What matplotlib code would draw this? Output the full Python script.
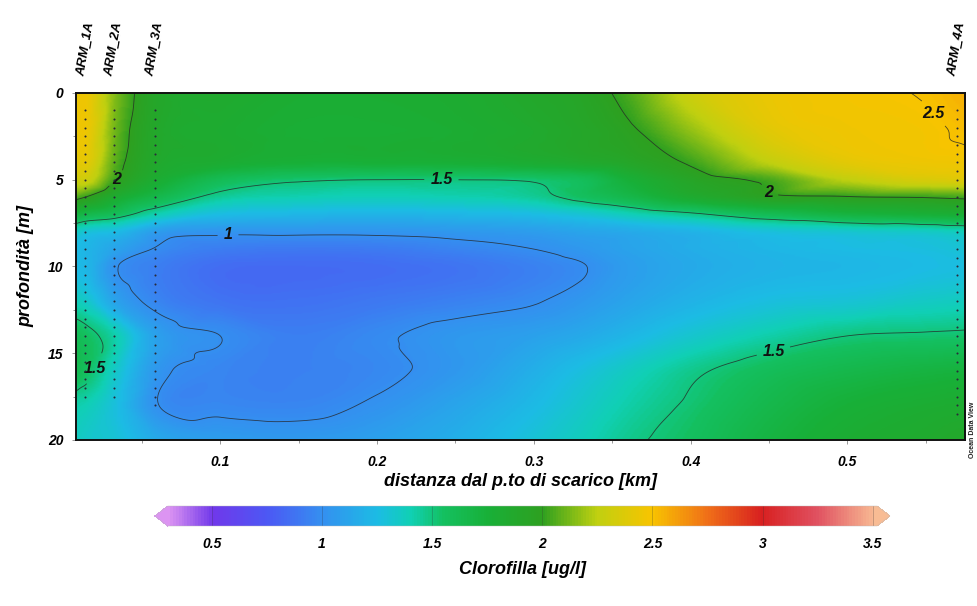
import numpy as np
import matplotlib
matplotlib.use("Agg")
import matplotlib.pyplot as plt
import matplotlib.tri as mtri
from matplotlib.colors import LinearSegmentedColormap, Normalize

plt.rcParams['font.family'] = ['Liberation Sans', 'DejaVu Sans']

# Chlorophyll section: distance from outfall (km) x depth (m)
dist = [0.008, 0.014, 0.032, 0.059, 0.10, 0.15, 0.20, 0.25, 0.30, 0.33,
        0.36, 0.40, 0.45, 0.50, 0.55, 0.575]
depth = [0, 2, 4, 5, 6, 7, 8, 9, 10, 12, 14, 16, 18, 20]

chl = [
    [2.45, 2.45, 2.15, 1.90, 1.85, 1.80, 1.80, 1.82, 1.88, 1.93, 2.05, 2.30, 2.44, 2.48, 2.51, 2.56],
    [2.45, 2.45, 2.12, 1.88, 1.82, 1.78, 1.78, 1.80, 1.85, 1.90, 1.98, 2.18, 2.40, 2.46, 2.48, 2.52],
    [2.40, 2.40, 2.08, 1.86, 1.80, 1.75, 1.75, 1.76, 1.80, 1.84, 1.90, 2.02, 2.25, 2.40, 2.45, 2.46],
    [2.30, 2.30, 2.02, 1.80, 1.60, 1.52, 1.50, 1.50, 1.52, 1.58, 1.75, 1.92, 2.04, 2.25, 2.35, 2.38],
    [2.05, 2.00, 1.82, 1.65, 1.45, 1.40, 1.38, 1.40, 1.45, 1.55, 1.65, 1.82, 1.96, 1.99, 2.01, 2.03],
    [1.70, 1.65, 1.58, 1.40, 1.25, 1.22, 1.20, 1.22, 1.25, 1.30, 1.38, 1.47, 1.60, 1.70, 1.75, 1.78],
    [1.35, 1.30, 1.25, 1.08, 1.03, 1.03, 1.03, 1.05, 1.08, 1.12, 1.15, 1.20, 1.28, 1.32, 1.35, 1.38],
    [1.25, 1.22, 1.12, 0.99, 0.92, 0.90, 0.91, 0.95, 1.00, 1.05, 1.11, 1.17, 1.22, 1.25, 1.27, 1.30],
    [1.24, 1.22, 1.02, 0.93, 0.85, 0.84, 0.85, 0.88, 0.94, 0.99, 1.08, 1.15, 1.20, 1.22, 1.25, 1.27],
    [1.38, 1.34, 1.12, 0.96, 0.88, 0.87, 0.90, 0.94, 0.99, 1.05, 1.12, 1.20, 1.27, 1.30, 1.35, 1.37],
    [1.60, 1.56, 1.42, 1.10, 1.00, 0.93, 0.98, 1.05, 1.10, 1.15, 1.22, 1.32, 1.42, 1.50, 1.52, 1.53],
    [1.62, 1.56, 1.35, 1.05, 0.96, 0.94, 0.97, 1.05, 1.18, 1.27, 1.36, 1.47, 1.58, 1.65, 1.70, 1.72],
    [1.42, 1.40, 1.28, 1.01, 0.97, 0.96, 1.02, 1.12, 1.24, 1.33, 1.42, 1.52, 1.65, 1.75, 1.80, 1.82],
    [1.36, 1.34, 1.30, 1.15, 1.08, 1.06, 1.10, 1.18, 1.30, 1.38, 1.47, 1.56, 1.70, 1.80, 1.85, 1.88],
]

stations = ['ARM_1A', 'ARM_2A', 'ARM_3A', 'ARM_4A']
station_dist = [0.014, 0.032, 0.0586, 0.570]
station_top = [1.0, 1.0, 1.0, 1.0]
station_bottom = [17.5, 17.5, 18.0, 18.5]

contour_levels = [1.0, 1.5, 2.0, 2.5]
cbar_ticks = [0.5, 1, 1.5, 2, 2.5, 3, 3.5]

# ODV-like rainbow palette
cmap_stops = [
    (0.30, '#dc94f2'), (0.50, '#7038ea'), (0.75, '#4c58f4'), (1.00, '#3490f0'),
    (1.25, '#1cbce4'), (1.40, '#10d0b4'), (1.55, '#14c060'), (1.75, '#18b038'),
    (2.00, '#2ea020'), (2.25, '#c0d010'), (2.50, '#f8c400'), (2.75, '#f07018'),
    (3.00, '#d82020'), (3.25, '#e05060'), (3.52, '#f8bc94'),
]
vmin, vmax = 0.30, 3.52
cmap = LinearSegmentedColormap.from_list(
    'odv', [((v - vmin) / (vmax - vmin), c) for v, c in cmap_stops])
cmap.set_under('#dc94f2')
cmap.set_over('#f8bc94')
norm = Normalize(vmin=vmin, vmax=vmax)

# Smooth gridding of the section values
X, Y = np.meshgrid(dist, depth)
Z = np.array(chl)
tri = mtri.Triangulation(X.ravel(), Y.ravel())
interp = mtri.CubicTriInterpolator(tri, Z.ravel(), kind='geom')
xf = np.linspace(dist[0] + 1e-6, dist[-1] - 1e-6, 500)
yf = np.linspace(depth[0] + 1e-6, depth[-1] - 1e-6, 300)
Xf, Yf = np.meshgrid(xf, yf)
Zf = interp(Xf, Yf)

fig = plt.figure(figsize=(9.77, 6.06), dpi=100)
ax = fig.add_axes([0.0778, 0.274, 0.91, 0.5726])

ax.imshow(Zf, extent=[dist[0], dist[-1], depth[-1], depth[0]], origin='upper',
          cmap=cmap, norm=norm, aspect='auto', interpolation='bilinear')
cs = ax.contour(Xf, Yf, Zf, levels=contour_levels, colors='#262626',
                linewidths=0.6, alpha=0.8)
labels = ax.clabel(cs, fmt=lambda v: f'{v:g}', fontsize=11.5, inline=True,
                   inline_spacing=6,
                   manual=[(0.038, 5.3), (0.241, 5.2), (0.105, 8.4),
                           (0.45, 5.6), (0.553, 1.3), (0.452, 14.6),
                           (0.014, 15.7)])
for t in labels:
    t.set_fontweight('bold')
    t.set_fontstyle('italic')
    t.set_color('#111111')
    t.set_rotation(0)

# Sample points at each station
for sd, top, bot in zip(station_dist, station_top, station_bottom):
    zs = np.arange(top, bot + 0.01, 0.5)
    ax.scatter(np.full_like(zs, sd), zs, s=2.2, color='#2a2a3a', zorder=4,
               linewidths=0)

ax.set_xlim(dist[0], dist[-1])
ax.set_ylim(depth[-1], depth[0])
ax.set_xticks([0.1, 0.2, 0.3, 0.4, 0.5])
ax.set_xticks([0.05, 0.15, 0.25, 0.35, 0.45, 0.55], minor=True)
ax.set_yticks([0, 5, 10, 15, 20])
ax.set_yticks([2.5, 7.5, 12.5, 17.5], minor=True)
ax.tick_params(which='both', direction='out', length=3, width=0.6,
               color='#888888', labelsize=10, pad=6)
ax.tick_params(axis='x', pad=8)
ax.tick_params(which='minor', length=2)
for lab in ax.get_xticklabels() + ax.get_yticklabels():
    lab.set_fontweight('bold')
    lab.set_fontstyle('italic')
for sp in ax.spines.values():
    sp.set_linewidth(1.4)
    sp.set_color('#111111')

ax.set_xlabel('distanza dal p.to di scarico [km]', fontsize=13,
              fontweight='bold', fontstyle='italic', labelpad=3)
ax.set_ylabel('profondità [m]', fontsize=13, fontweight='bold',
              fontstyle='italic', labelpad=10)

for name, sd in zip(stations, station_dist):
    ax.text(sd, -0.9, name, rotation=80, ha='center', va='bottom',
            fontsize=9.5, fontweight='bold', fontstyle='italic',
            clip_on=False)

fig.text(0.9955, 0.245, 'Ocean Data View', rotation=90, ha='center',
         va='bottom', fontsize=5, fontweight='bold', color='#222222')

# Colour bar (axes spans tip to tip of the extension triangles)
cax = fig.add_axes([0.1586, 0.132, 0.7523, 0.033])
sm = plt.cm.ScalarMappable(norm=norm, cmap=cmap)
cb = fig.colorbar(sm, cax=cax, orientation='horizontal', extend='both',
                  extendfrac=0.018, ticks=cbar_ticks)
cb.outline.set_linewidth(0.3)
cb.outline.set_edgecolor('#bbbbbb')
cax.tick_params(length=0, labelsize=10, pad=8)
cb.set_ticklabels([f'{t:g}' for t in cbar_ticks])
for lab in cax.get_xticklabels():
    lab.set_fontweight('bold')
    lab.set_fontstyle('italic')
for t in cbar_ticks:
    cax.axvline(t, color='#333333', lw=0.5, alpha=0.35)
cb.set_label('Clorofilla [ug/l]', fontsize=13, fontweight='bold',
             fontstyle='italic', labelpad=7)

fig.savefig('out.png', dpi=100)
